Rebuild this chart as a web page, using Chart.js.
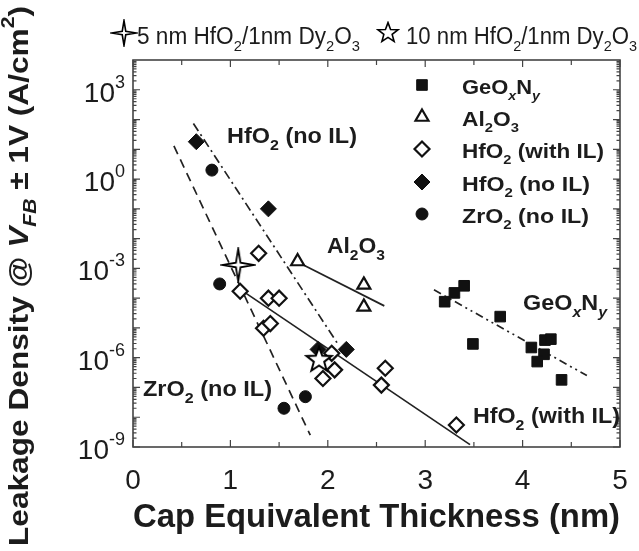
<!DOCTYPE html>
<html>
<head>
<meta charset="utf-8">
<script src="https://cdn.jsdelivr.net/npm/chart.js@4/dist/chart.umd.min.js"></script>
<style>
  html, body { margin: 0; padding: 0; background: #fff; }
</style>
</head>
<body>
<canvas id="leak" width="639" height="551"></canvas>
<script>
// axis ticks
const xTicks = [0, 1, 2, 3, 4, 5];
const yTicks = [1e3, 1, 1e-3, 1e-6, 1e-9];
const yTickSup = ['3', '0', '-3', '-6', '-9'];

// GeOxNy (filled squares)
const geoX = [3.20, 3.30, 3.40, 3.77, 3.49, 4.09, 4.23, 4.29, 4.22, 4.15, 4.40];
const geoY = [7.6e-5, 1.5e-4, 2.6e-4, 2.4e-5, 2.9e-6, 2.2e-6, 3.9e-6, 4.2e-6, 1.3e-6, 7.4e-7, 1.8e-7];
// Al2O3 (open triangles)
const alX = [1.69, 2.37, 2.37];
const alY = [1.7e-3, 2.8e-4, 5.1e-5];
// HfO2 with IL (open diamonds)
const hfIlX = [1.29, 1.10, 1.39, 1.50, 1.34, 1.41, 2.04, 2.07, 1.95, 2.55, 2.59, 3.32];
const hfIlY = [3.2e-3, 1.7e-4, 1.0e-4, 1.0e-4, 9.8e-6, 1.4e-5, 1.4e-6, 3.9e-7, 2.0e-7, 1.2e-7, 4.4e-7, 5.5e-9];
// HfO2 no IL (filled diamonds)
const hfNoX = [0.65, 1.39, 1.90, 2.19];
const hfNoY = [18, 0.1, 1.9e-6, 1.9e-6];
// ZrO2 no IL (filled circles)
const zrX = [0.81, 0.89, 1.77, 1.55];
const zrY = [2.0, 3.0e-4, 4.9e-8, 2.0e-8];
// stacks
const star5X = [1.08], star5Y = [1.3e-3];
const star10X = [1.91], star10Y = [8.3e-7];

// trend lines
const fitHfNoX = [0.62, 2.10], fitHfNoY = [74, 3.0e-6];
const fitZrX = [0.42, 1.82], fitZrY = [13, 2.5e-9];
const fitAlX = [1.75, 2.58], fitAlY = [1.3e-3, 5.5e-5];
const fitHfIlX = [1.07, 3.46], fitHfIlY = [2.3e-4, 1.2e-9];
const fitGeoX = [3.09, 4.66], fitGeoY = [1.9e-4, 2.5e-7];

const FONT = '"Liberation Sans", Arial, Helvetica, sans-serif';
const INK = '#1c1c1c';

function starCanvas(size, n, inner, lw) {
    const c = document.createElement('canvas');
    c.width = c.height = size;
    const g = c.getContext('2d');
    const R = size / 2 - lw, r = R * inner, m = size / 2;
    g.beginPath();
    for (let i = 0; i < 2 * n; i++) {
        const a = -Math.PI / 2 + i * Math.PI / n;
        const rr = i % 2 ? r : R;
        g.lineTo(m + rr * Math.cos(a), m + rr * Math.sin(a));
    }
    g.closePath();
    g.fillStyle = '#fff';
    g.fill();
    g.lineJoin = 'miter';
    g.lineWidth = lw;
    g.strokeStyle = '#000';
    g.stroke();
    return c;
}
const star4Big = starCanvas(36, 4, 0.2, 1.8);
const star4Small = starCanvas(28, 4, 0.2, 1.6);
const star5Big = starCanvas(30, 5, 0.42, 2);
const star5Small = starCanvas(24, 5, 0.42, 1.6);

// text with sub/superscripts, optional stretch to a given width
function rich(ctx, parts, x, cy, size, o) {
    o = o || {};
    const bold = o.bold ? 'bold ' : '';
    const fonts = parts.map(p => {
        const k = p[1] || '';
        const small = k.includes('sub') || k.includes('sup');
        const it = k.startsWith('i') ? 'italic ' : '';
        return it + bold + (small ? Math.round(size * 0.66) : size) + 'px ' + FONT;
    });
    let w = 0;
    const ws = [];
    parts.forEach((p, i) => {
        ctx.font = fonts[i];
        const m = ctx.measureText(p[0]).width;
        ws.push(m);
        w += m;
    });
    const sx = o.width ? o.width / w : 1;
    let x0 = x;
    if (o.align === 'center') x0 = x - w * sx / 2;
    else if (o.align === 'right') x0 = x - w * sx;
    ctx.save();
    ctx.fillStyle = INK;
    ctx.textBaseline = 'alphabetic';
    ctx.textAlign = 'left';
    ctx.translate(x0, cy + size * 0.36);
    ctx.scale(sx, 1);
    let cx = 0;
    parts.forEach((p, i) => {
        const k = p[1] || '';
        let dy = 0;
        if (k.includes('sub')) dy = size * 0.3;
        if (k.includes('sup')) dy = -size * 0.5;
        ctx.font = fonts[i];
        ctx.fillText(p[0], cx, dy);
        cx += ws[i];
    });
    ctx.restore();
}

function pts(xs, ys) {
    return xs.map((x, i) => ({x: x, y: ys[i]}));
}

const mk = {
    geo: {pointStyle: 'rect', pointRadius: 7.5, pointBackgroundColor: '#111', pointBorderColor: '#111', pointBorderWidth: 1},
    al: {pointStyle: 'triangle', pointRadius: 7.5, pointBackgroundColor: '#fff', pointBorderColor: '#111', pointBorderWidth: 2.2},
    hfIl: {pointStyle: 'rectRot', pointRadius: 7.5, pointBackgroundColor: '#fff', pointBorderColor: '#111', pointBorderWidth: 2.2},
    hfNo: {pointStyle: 'rectRot', pointRadius: 8, pointBackgroundColor: '#111', pointBorderColor: '#111', pointBorderWidth: 1},
    zr: {pointStyle: 'circle', pointRadius: 6, pointBackgroundColor: '#111', pointBorderColor: '#111', pointBorderWidth: 1}
};

function lineSet(xs, ys, dash) {
    return {
        data: pts(xs, ys), showLine: true, pointRadius: 0,
        borderColor: '#222', borderWidth: 1.7, borderDash: dash
    };
}

const decor = {
    id: 'decor',
    afterDatasetsDraw(chart) {
        const ctx = chart.ctx;
        const {left, right, top, bottom} = chart.chartArea;
        const sx = chart.scales.x, sy = chart.scales.y;
        ctx.save();
        ctx.strokeStyle = '#444';
        ctx.lineWidth = 1.6;
        ctx.strokeRect(left, top, right - left, bottom - top);
        ctx.lineWidth = 1.2;
        ctx.beginPath();
        for (let v = 0; v <= 5; v += 0.5) {
            const px = sx.getPixelForValue(v);
            const L = v % 1 === 0 ? 7 : 5;
            ctx.moveTo(px, bottom); ctx.lineTo(px, bottom - L);
            ctx.moveTo(px, top); ctx.lineTo(px, top + L);
        }
        for (let e = -9; e < 4; e++) {
            for (let m = 1; m < 10; m++) {
                const py = sy.getPixelForValue(m * Math.pow(10, e));
                const L = m === 1 ? 7 : 3.5;
                ctx.moveTo(left, py); ctx.lineTo(left + L, py);
                ctx.moveTo(right, py); ctx.lineTo(right - L, py);
            }
        }
        ctx.stroke();
        ctx.restore();

        // y tick labels
        yTicks.forEach((v, i) => {
            const py = sy.getPixelForValue(v);
            rich(ctx, [['10'], [yTickSup[i], 'sup']], 125, py + 2, 28, {align: 'right'});
        });

        // y title
        ctx.save();
        ctx.translate(18, 276);
        ctx.rotate(-Math.PI / 2);
        rich(ctx, [['Leakage Density @ '], ['V', 'i'], ['FB', 'isub'], [' \u00b1 1V (A/cm'], ['2', 'sup'], [')']],
            0, 0, 27, {bold: true, align: 'center', width: 540});
        ctx.restore();

        // top legend
        ctx.drawImage(star4Small, 124 - 14, 33 - 14);
        rich(ctx, [['5 nm HfO'], ['2', 'sub'], ['/1nm Dy'], ['2', 'sub'], ['O'], ['3', 'sub']], 137, 36, 23, {width: 223});
        ctx.drawImage(star5Small, 388 - 12, 33 - 12);
        rich(ctx, [['10 nm HfO'], ['2', 'sub'], ['/1nm Dy'], ['2', 'sub'], ['O'], ['3', 'sub']], 406, 36, 23, {width: 231});

        // right legend
        const rows = [
            [mk.geo, [['GeO'], ['x', 'isub'], ['N'], ['y', 'isub']], 78],
            [mk.al, [['Al'], ['2', 'sub'], ['O'], ['3', 'sub']], 57],
            [mk.hfIl, [['HfO'], ['2', 'sub'], [' (with IL)']], 142],
            [mk.hfNo, [['HfO'], ['2', 'sub'], [' (no IL)']], 128],
            [mk.zr, [['ZrO'], ['2', 'sub'], [' (no IL)']], 127]
        ];
        const rowY = [85, 117, 149, 182, 214];
        rows.forEach((r, i) => {
            const st = r[0];
            ctx.save();
            ctx.fillStyle = st.pointBackgroundColor;
            ctx.strokeStyle = st.pointBorderColor;
            ctx.lineWidth = st.pointBorderWidth;
            Chart.helpers.drawPoint(ctx, {pointStyle: st.pointStyle, radius: st.pointRadius, borderWidth: st.pointBorderWidth, rotation: 0}, 422, rowY[i]);
            ctx.restore();
            rich(ctx, r[1], 462, rowY[i] + 2, 20, {bold: true, width: r[2]});
        });

        // curve labels
        rich(ctx, [['HfO'], ['2', 'sub'], [' (no IL)']], 227, 135, 22, {bold: true, width: 130});
        rich(ctx, [['Al'], ['2', 'sub'], ['O'], ['3', 'sub']], 327, 245, 22, {bold: true, width: 58});
        rich(ctx, [['GeO'], ['x', 'isub'], ['N'], ['y', 'isub']], 523, 302, 22, {bold: true, width: 84});
        rich(ctx, [['HfO'], ['2', 'sub'], [' (with IL)']], 473, 415, 22, {bold: true, width: 147});
        rich(ctx, [['ZrO'], ['2', 'sub'], [' (no IL)']], 143, 388, 22, {bold: true, width: 129});
    }
};

new Chart(document.getElementById('leak'), {
    type: 'scatter',
    data: {
        datasets: [
            {label: '10 nm HfO2/1nm Dy2O3', data: pts(star10X, star10Y), pointStyle: star5Big, pointRadius: 15},
            {label: '5 nm HfO2/1nm Dy2O3', data: pts(star5X, star5Y), pointStyle: star4Big, pointRadius: 18},
            Object.assign({label: 'HfO2 (no IL)', data: pts(hfNoX, hfNoY)}, mk.hfNo),
            Object.assign({label: 'ZrO2 (no IL)', data: pts(zrX, zrY)}, mk.zr),
            Object.assign({label: 'HfO2 (with IL)', data: pts(hfIlX, hfIlY)}, mk.hfIl),
            Object.assign({label: 'Al2O3', data: pts(alX, alY)}, mk.al),
            Object.assign({label: 'GeOxNy', data: pts(geoX, geoY)}, mk.geo),
            lineSet(fitHfNoX, fitHfNoY, [9, 4, 2, 4]),
            lineSet(fitZrX, fitZrY, [9, 6]),
            lineSet(fitAlX, fitAlY, []),
            lineSet(fitHfIlX, fitHfIlY, []),
            lineSet(fitGeoX, fitGeoY, [8, 4, 2, 4, 2, 4])
        ]
    },
    options: {
        responsive: false,
        animation: false,
        devicePixelRatio: 1,
        layout: {padding: {left: 0, top: 60, right: 14, bottom: 0}},
        plugins: {legend: {display: false}, tooltip: {enabled: false}},
        scales: {
            x: {
                type: 'linear', min: 0, max: 5, position: 'bottom',
                afterBuildTicks: s => { s.ticks = xTicks.map(v => ({value: v})); },
                afterFit: s => { s.height = 104; },
                grid: {display: false},
                border: {display: false},
                ticks: {font: {family: FONT, size: 28}, color: INK, padding: 9, maxRotation: 0, autoSkip: false},
                title: {
                    display: true, text: 'Cap Equivalent Thickness (nm)',
                    font: {family: FONT, size: 33, weight: 'bold'}, color: INK,
                    padding: {top: 0, bottom: 13}
                }
            },
            y: {
                type: 'logarithmic', min: 1e-9, max: 1e4, position: 'left',
                afterFit: s => { s.width = 133; },
                grid: {display: false},
                border: {display: false},
                ticks: {display: false}
            }
        }
    },
    plugins: [decor]
});
</script>
</body>
</html>
